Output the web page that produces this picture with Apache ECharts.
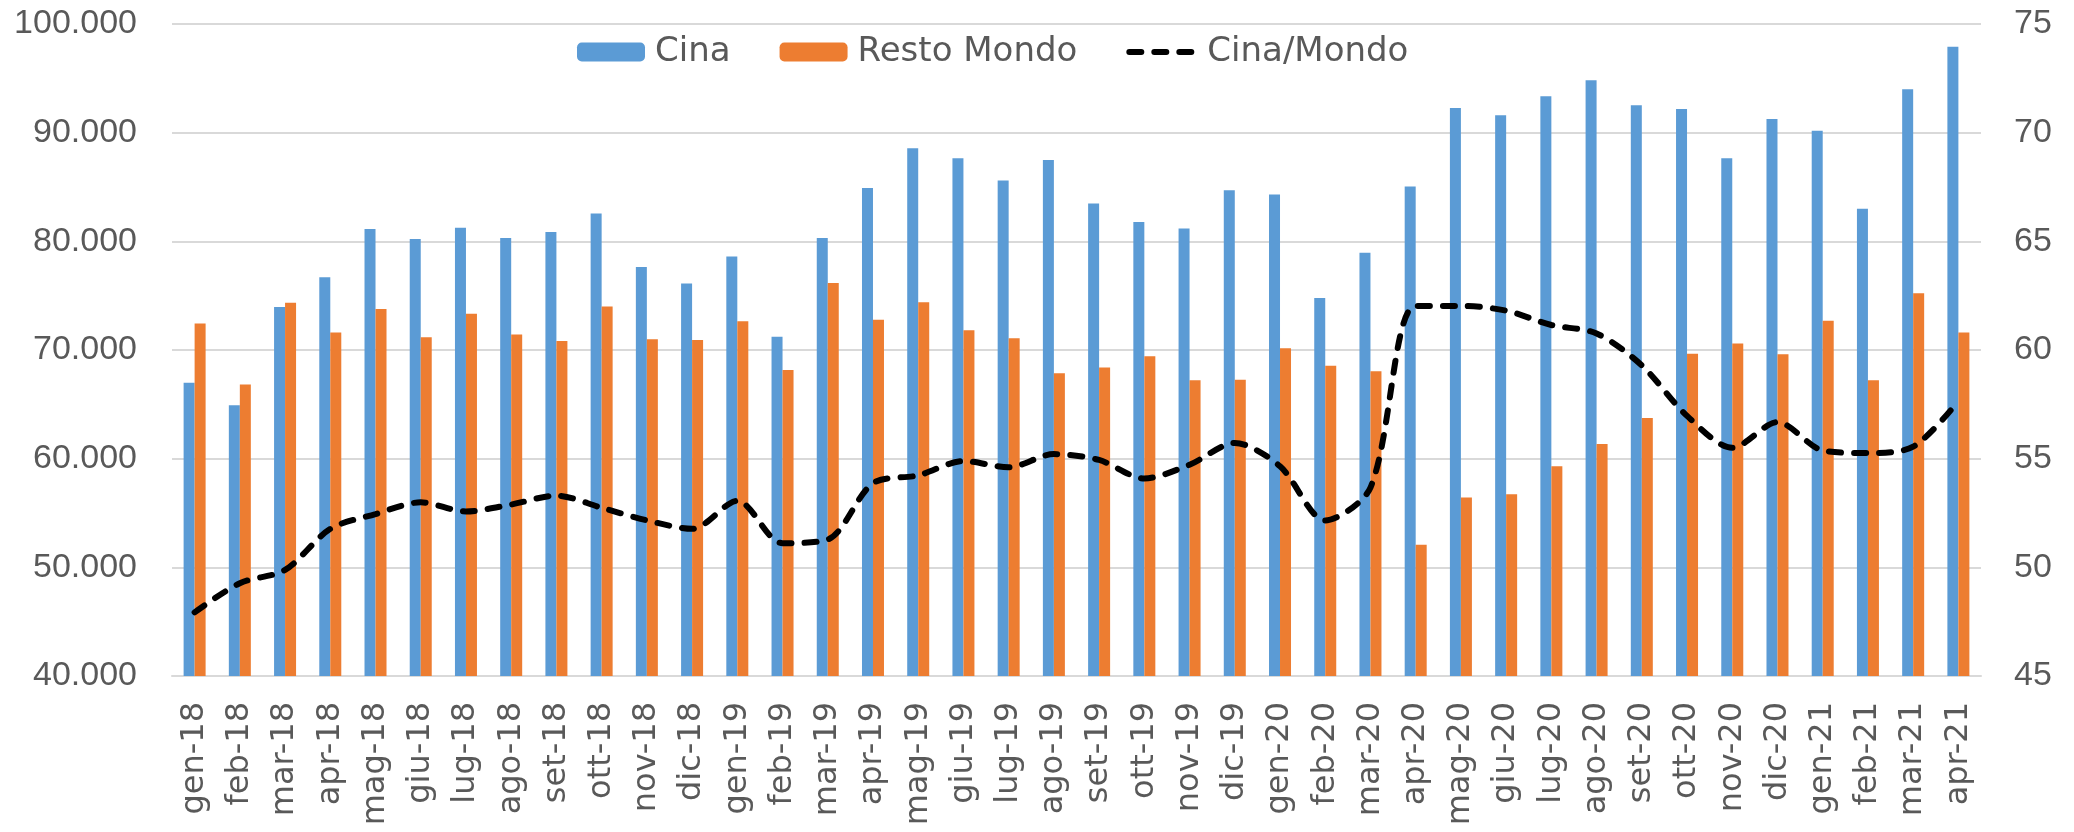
<!DOCTYPE html>
<html>
<head>
    <meta charset="utf-8">
    <title>Cina / Resto Mondo</title>
    <script src="https://cdn.jsdelivr.net/npm/echarts@6/dist/echarts.min.js"></script>
    <style>
        html, body { margin: 0; padding: 0; background: #fff; }
        #chart { width: 2074px; height: 832px; }
    </style>
</head>
<body>
<div id="chart"></div>
<script type="text/javascript">
    // mesi (gen-18 .. apr-21)
    var months = ['gen-18', 'feb-18', 'mar-18', 'apr-18', 'mag-18', 'giu-18', 'lug-18', 'ago-18', 'set-18', 'ott-18', 'nov-18', 'dic-18',
        'gen-19', 'feb-19', 'mar-19', 'apr-19', 'mag-19', 'giu-19', 'lug-19', 'ago-19', 'set-19', 'ott-19', 'nov-19', 'dic-19',
        'gen-20', 'feb-20', 'mar-20', 'apr-20', 'mag-20', 'giu-20', 'lug-20', 'ago-20', 'set-20', 'ott-20', 'nov-20', 'dic-20',
        'gen-21', 'feb-21', 'mar-21', 'apr-21'];

    var cina = [66980, 64920, 73960, 76700, 81140, 80220, 81240, 80310, 80850, 82560, 77630, 76110,
        78600, 71230, 80310, 84900, 88570, 87640, 85590, 87490, 83490, 81780, 81190, 84710,
        84320, 74790, 78940, 85050, 92280, 91600, 93360, 94820, 92520, 92180, 87640, 91260,
        90180, 83000, 93990, 97900];

    var restoMondo = [72450, 66830, 74350, 71620, 73770, 71180, 73330, 71420, 70830, 74010, 70980, 70930,
        72640, 68150, 76160, 72790, 74400, 71810, 71080, 67860, 68390, 69420, 67220, 67270,
        70150, 68540, 68050, 52080, 56420, 56720, 59310, 61360, 63750, 69660, 70590, 69610,
        72690, 67220, 75230, 71620];

    var cinaMondo = [47.93, 49.27, 49.88, 51.77, 52.45, 52.99, 52.57, 52.89, 53.30, 52.74, 52.16, 51.77,
        53.06, 51.11, 51.28, 53.87, 54.23, 54.89, 54.60, 55.21, 54.94, 54.09, 54.72, 55.72,
        54.65, 52.16, 53.67, 62.03, 62.03, 61.81, 61.15, 60.76, 59.29, 56.97, 55.50, 56.68,
        55.38, 55.26, 55.55, 57.65];

    var textColor = '#595959';
    var font = 'DejaVu Sans';
    var numFont = 'Liberation Sans';
    var dashed = { color: '#000', width: 6, type: [12, 13], cap: 'round' };

    function fmtThousands(v) {
        return String(v).replace(/\B(?=(\d{3})+(?!\d))/g, '.');
    }

    var myChart = echarts.init(document.getElementById('chart'));
    myChart.setOption({
        animation: false,
        textStyle: { fontFamily: font },
        legend: {
            left: 572,
            top: 30,
            itemWidth: 68,
            itemHeight: 19,
            itemGap: 49,
            textStyle: { fontSize: 34, color: textColor, fontFamily: font, padding: [0, 0, 0, 5] },
            data: ['Cina', 'Resto Mondo', {
                name: 'Cina/Mondo',
                itemStyle: { opacity: 0 },
                lineStyle: { width: 6, type: [12, 13], cap: 'round' }
            }]
        },
        grid: {
            left: 172,
            right: 93,
            top: 24,
            bottom: 156
        },
        xAxis: {
            type: 'category',
            data: months,
            axisTick: { show: false },
            axisLine: { lineStyle: { color: '#d9d9d9', width: 2 } },
            axisLabel: {
                interval: 0,
                rotate: 90,
                margin: 26,
                fontSize: 32,
                color: textColor,
                fontFamily: font
            }
        },
        yAxis: [{
            type: 'value',
            min: 40000,
            max: 100000,
            interval: 10000,
            axisLine: { show: false },
            axisTick: { show: false },
            splitLine: { lineStyle: { color: '#d9d9d9', width: 2 } },
            axisLabel: {
                margin: 35,
                fontSize: 34,
                color: textColor,
                fontFamily: numFont,
                formatter: fmtThousands
            }
        }, {
            type: 'value',
            min: 45,
            max: 75,
            interval: 5,
            axisLine: { show: false },
            axisTick: { show: false },
            splitLine: { show: false },
            axisLabel: {
                margin: 33,
                fontSize: 34,
                color: textColor,
                fontFamily: numFont
            }
        }],
        series: [{
            name: 'Cina',
            type: 'bar',
            data: cina,
            barWidth: 11,
            barGap: '0%',
            itemStyle: { color: '#5b9bd5' }
        }, {
            name: 'Resto Mondo',
            type: 'bar',
            data: restoMondo,
            barWidth: 11,
            itemStyle: { color: '#ed7d31' }
        }, {
            name: 'Cina/Mondo',
            type: 'line',
            yAxisIndex: 1,
            data: cinaMondo,
            smooth: 0.3,
            symbol: 'none',
            showSymbol: false,
            itemStyle: { color: '#000' },
            lineStyle: dashed,
            z: 5
        }]
    });
</script>
</body>
</html>
